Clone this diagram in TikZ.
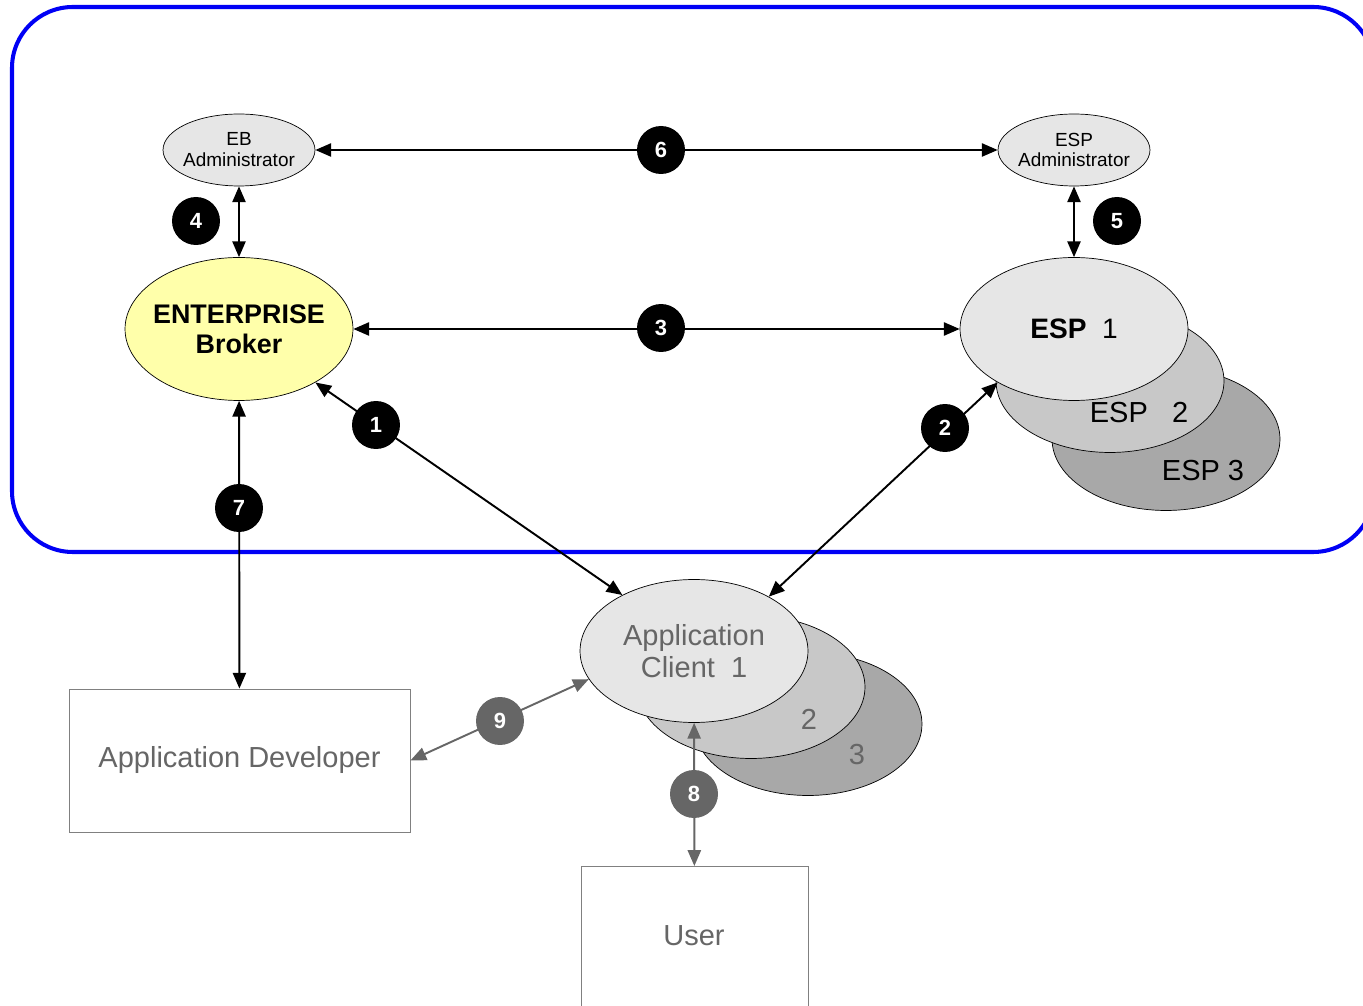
\documentclass[tikz,border=0pt]{standalone}
\usepackage{fontspec}
\setmainfont{Liberation Sans}
\usetikzlibrary{arrows.meta,shapes.geometric}
\definecolor{brokeryellow}{RGB}{255,255,170}
\definecolor{lightgrey}{RGB}{230,230,230}
\definecolor{midgrey}{RGB}{200,200,200}
\definecolor{darkgrey}{RGB}{168,168,168}
\definecolor{textgrey}{RGB}{102,102,102}
\definecolor{boxgrey}{RGB}{128,128,128}
\definecolor{frameblue}{RGB}{0,0,245}
\tikzset{
  tip/.tip={Triangle[length=9pt,width=7.5pt]},
  link/.style={tip-tip, line width=1.1pt},
  greylink/.style={link, draw=textgrey},
  badge/.style={circle, fill=black, text=white, minimum size=0.96cm, inner sep=0pt,
    font=\fontsize{12.5}{12.5}\selectfont\bfseries},
  greybadge/.style={badge, fill=textgrey},
  admin/.style={ellipse, draw, line width=0.4pt, fill=lightgrey, minimum width=3.04cm, minimum height=1.44cm},
  blob/.style={ellipse, draw, line width=0.4pt, minimum width=4.56cm, minimum height=2.86cm},
  actor/.style={draw=boxgrey, line width=0.5pt, fill=white, text=textgrey, font=\fontsize{16.5}{18}\selectfont}
}
\begin{document}
\begin{tikzpicture}[x=0.02cm, y=-0.02cm]
  \useasboundingbox (0,0) rectangle (1363,1006);
  % Frame round the broker side
  \draw[frameblue, line width=2.3pt, rounded corners=34.6pt] (12,7) rectangle (1374,552);

  % Administrators
  \node[admin] (ebadm) at (239,150) {};
  \node[align=center, font=\fontsize{10.8}{11.9}\selectfont] (ebadmtxt) at (ebadm) {EB\\Administrator};
  \node[admin] (espadm) at (1074,150) {};
  \node[align=center, font=\fontsize{10.8}{11.9}\selectfont] (espadmtxt) at (espadm) {ESP\\Administrator};

  % Broker
  \node[blob, fill=brokeryellow] (broker) at (239,329) {};
  \node[align=center, font=\fontsize{15.3}{17}\selectfont\bfseries] (brokertxt) at (broker) {ENTERPRISE\\Broker};

  % ESP stack
  \node[blob, fill=darkgrey] (esp3) at (1166,439) {};
  \node[font=\fontsize{16.5}{18}\selectfont] (esp3txt) at (1203,471) {ESP 3};
  \node[blob, fill=midgrey] (esp2) at (1110,381) {};
  \node[font=\fontsize{16.5}{18}\selectfont] (esp2txt) at (1139,413) {ESP\ \ \ 2};
  \node[blob, fill=lightgrey] (esp1) at (1074,329) {};
  \node[font=\fontsize{16}{18}\selectfont] (esp1txt) at (esp1) {\textbf{ESP}\ \ 1};

  % Application client stack
  \node[blob, fill=darkgrey] (client3) at (808,724) {};
  \node[text=textgrey, font=\fontsize{16.5}{18}\selectfont] (client3txt) at (857,755) {3};
  \node[blob, fill=midgrey] (client2) at (751,687) {};
  \node[text=textgrey, font=\fontsize{16.5}{18}\selectfont] (client2txt) at (809,719) {2};
  \node[blob, fill=lightgrey] (client1) at (694,651) {};
  \node[align=center, text=textgrey, font=\fontsize{16.5}{18.1}\selectfont] (client1txt) at (client1) {Application\\Client\ \ 1};

  % People outside
  \node[actor, minimum width=6.82cm, minimum height=2.86cm] (appdev) at (239.5,760.5) {Application Developer};
  \node[actor, minimum width=4.54cm, minimum height=3.2cm, anchor=north, text height=0pt] (user) at (694.5,866) {};
  \node[text=textgrey, font=\fontsize{16.5}{18}\selectfont] (usertxt) at (694,936) {User};

  % Connectors
  \draw[link] (ebadm) -- (espadm);
  \draw[link] (ebadm) -- (broker);
  \draw[link] (espadm) -- (esp1);
  \draw[link] (broker) -- (esp1);
  \draw[link] (broker.325) -- (client1.142);
  \draw[link] (esp1.215) -- (client1.36);
  \draw[link] (broker) -- (appdev);
  \draw[greylink] (client1) -- (user);
  \draw[greylink] (client1.195) -- (appdev.east);

  % Numbered badges
  \node[badge] (b1) at (376,425) {1};
  \node[badge] (b2) at (945,428) {2};
  \node[badge] (b3) at (661,328) {3};
  \node[badge] (b4) at (196,221) {4};
  \node[badge] (b5) at (1117,221) {5};
  \node[badge] (b6) at (661,150) {6};
  \node[badge] (b7) at (239,508) {7};
  \node[greybadge] (b8) at (694,794) {8};
  \node[greybadge] (b9) at (500,721) {9};
\end{tikzpicture}
\end{document}
